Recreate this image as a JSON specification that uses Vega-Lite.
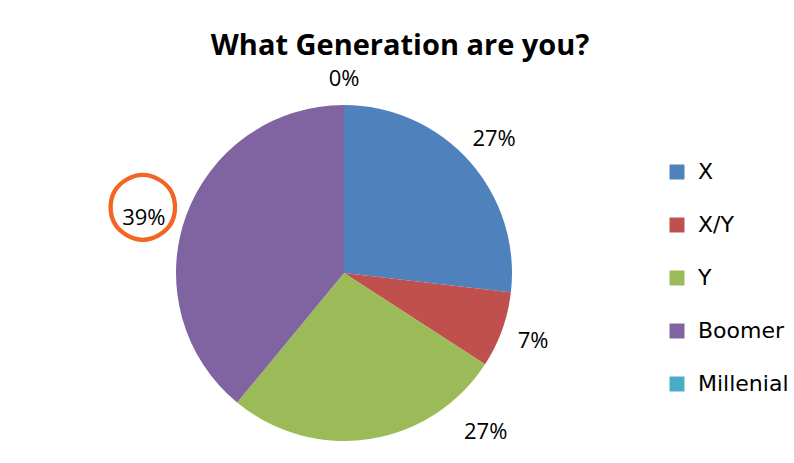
{
  "$schema": "https://vega.github.io/schema/vega-lite/v6.json",
  "autosize": {"type": "none"},
  "width": 336,
  "height": 336,
  "padding": {"left": 176, "top": 105, "right": 282, "bottom": 22},
  "background": "white",
  "config": {"view": {"stroke": null}},
  "title": {
    "text": "What Generation are you?",
    "font": "Open Sans",
    "fontSize": 29,
    "fontWeight": "bold",
    "color": "black",
    "anchor": "middle",
    "dx": 56,
    "offset": -23
  },
  "data": {
    "values": [
      {"gen": "X", "count": 11, "label": "27%", "order": 1},
      {"gen": "X/Y", "count": 3, "label": "7%", "order": 2},
      {"gen": "Y", "count": 11, "label": "27%", "order": 3},
      {"gen": "Boomer", "count": 16, "label": "39%", "order": 4},
      {"gen": "Millenial", "count": 0, "label": "0%", "order": 5}
    ]
  },
  "encoding": {
    "theta": {"field": "count", "type": "quantitative", "stack": true},
    "order": {"field": "order", "type": "quantitative"}
  },
  "layer": [
    {
      "mark": {"type": "arc", "strokeWidth": 0},
      "encoding": {
        "color": {
          "field": "gen",
          "type": "nominal",
          "sort": ["X", "X/Y", "Y", "Boomer", "Millenial"],
          "scale": {
            "domain": ["X", "X/Y", "Y", "Boomer", "Millenial"],
            "range": ["#4F81BD", "#C0504D", "#9BBB59", "#8064A2", "#4BACC6"]
          },
          "legend": {
            "title": null,
            "orient": "none",
            "legendX": 490,
            "legendY": 56,
            "symbolType": "square",
            "symbolSize": 225,
            "symbolStrokeWidth": 0,
            "labelFont": "DejaVu Sans",
            "labelFontSize": 22,
            "labelColor": "black",
            "labelOffset": 10,
            "rowPadding": 31,
            "labelLimit": 300
          }
        }
      }
    },
    {
      "mark": {"type": "text", "font": "Open Sans", "fontSize": 22, "color": "black", "baseline": "middle", "align": "center"},
      "encoding": {
        "radius": {"value": 201},
        "text": {"condition": {"test": "datum.gen === 'X' || datum.gen === 'X/Y'", "field": "label"}, "value": ""}
      }
    },
    {
      "mark": {"type": "text", "font": "Open Sans", "fontSize": 22, "color": "black", "baseline": "middle", "align": "center", "dy": 7},
      "encoding": {
        "radius": {"value": 201},
        "text": {"condition": {"test": "datum.gen === 'Millenial'", "field": "label"}, "value": ""}
      }
    },
    {
      "mark": {"type": "text", "font": "Open Sans", "fontSize": 22, "color": "black", "baseline": "middle", "align": "center", "dx": 116, "dy": -7},
      "encoding": {
        "radius": {"value": 168},
        "text": {"condition": {"test": "datum.gen === 'Y'", "field": "label"}, "value": ""}
      }
    },
    {
      "mark": {"type": "text", "font": "Open Sans", "fontSize": 22, "color": "black", "baseline": "middle", "align": "center", "dx": -11, "dy": 13},
      "encoding": {
        "radius": {"value": 201},
        "text": {"condition": {"test": "datum.gen === 'Boomer'", "field": "label"}, "value": ""}
      }
    },
    {
      "mark": {"type": "text", "font": "DejaVu Sans", "fontSize": 68, "color": "#F26522", "baseline": "middle", "align": "center", "dx": -12, "dy": 0},
      "encoding": {
        "radius": {"value": 201},
        "text": {"condition": {"test": "datum.gen === 'Boomer'", "value": "◯"}, "value": ""}
      }
    }
  ]
}
